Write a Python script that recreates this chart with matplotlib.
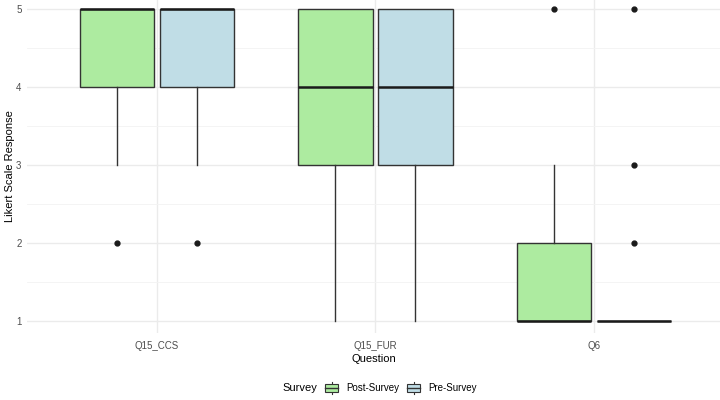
import matplotlib
matplotlib.use("Agg")

import matplotlib.pyplot as plt
from matplotlib.legend_handler import HandlerBase
from matplotlib.patches import Rectangle
from matplotlib.lines import Line2D


# Box statistics
QUESTIONS = ["Q15_CCS", "Q15_FUR", "Q6"]
SURVEYS = ["Post-Survey", "Pre-Survey"]

POST_Q1 = [4, 3, 1]
POST_MED = [5, 4, 1]
POST_Q3 = [5, 5, 2]
POST_LO = [3, 1, 1]
POST_HI = [5, 5, 3]
POST_FLIERS = [[2], [], [5]]

PRE_Q1 = [4, 3, 1]
PRE_MED = [5, 4, 1]
PRE_Q3 = [5, 5, 1]
PRE_LO = [3, 1, 1]
PRE_HI = [5, 5, 1]
PRE_FLIERS = [[2], [], [2, 3, 5]]

COLORS = {"Post-Survey": "#ADEBA0", "Pre-Survey": "#C0DDE6"}

plt.rcParams["font.family"] = ["Liberation Sans", "DejaVu Sans"]


def make_stats(q1, med, q3, lo, hi, fliers):
    return [
        {"q1": a, "med": m, "q3": b, "whislo": l, "whishi": h, "fliers": f}
        for a, m, b, l, h, f in zip(q1, med, q3, lo, hi, fliers)
    ]


class BoxHandler(HandlerBase):
    """Small boxplot glyph for the legend keys."""

    def create_artists(self, legend, orig_handle, xdescent, ydescent,
                       width, height, fontsize, trans):
        cx = width / 2 - xdescent
        line = Line2D([cx, cx], [-ydescent - height * 0.2, -ydescent + height * 1.2],
                      color="#333333", linewidth=0.8, transform=trans)
        rect = Rectangle((cx - width * 0.48, -ydescent + height * 0.05),
                         width * 0.96, height * 0.9,
                         facecolor=orig_handle.get_facecolor(),
                         edgecolor="#333333", linewidth=0.8, transform=trans)
        mid = Line2D([cx - width * 0.48, cx + width * 0.48],
                     [-ydescent + height / 2, -ydescent + height / 2],
                     color="#333333", linewidth=1.0, transform=trans)
        return [line, rect, mid]


def main():
    fig = plt.figure(figsize=(7.2, 4.0), dpi=100)
    ax = fig.add_axes([0.0375, 0.1675, 0.9625, 0.8325])

    offsets = {"Post-Survey": -0.183, "Pre-Survey": 0.183}
    stats = {
        "Post-Survey": make_stats(POST_Q1, POST_MED, POST_Q3, POST_LO, POST_HI, POST_FLIERS),
        "Pre-Survey": make_stats(PRE_Q1, PRE_MED, PRE_Q3, PRE_LO, PRE_HI, PRE_FLIERS),
    }

    base = list(range(1, len(QUESTIONS) + 1))
    for survey in SURVEYS:
        positions = [b + offsets[survey] for b in base]
        ax.bxp(
            stats[survey],
            positions=positions,
            widths=0.34,
            patch_artist=True,
            showcaps=False,
            boxprops=dict(facecolor=COLORS[survey], edgecolor="#333333", linewidth=1.0),
            whiskerprops=dict(color="#333333", linewidth=1.0),
            medianprops=dict(color="#1a1a1a", linewidth=1.8),
            flierprops=dict(marker="o", markerfacecolor="#1a1a1a",
                            markeredgecolor="#1a1a1a", markersize=3.5),
            manage_ticks=False,
            zorder=3,
        )

    ax.set_xlim(0.405, 3.577)
    ax.set_ylim(0.846, 5.115)
    ax.set_xticks(base)
    ax.set_xticklabels(QUESTIONS)
    ax.set_yticks([1, 2, 3, 4, 5])
    ax.set_yticks([1.5, 2.5, 3.5, 4.5], minor=True)

    ax.grid(True, which="major", color="#EBEBEB", linewidth=1.0, zorder=0)
    ax.grid(True, which="minor", axis="y", color="#F3F3F3", linewidth=0.6, zorder=0)
    ax.set_axisbelow(True)
    for spine in ax.spines.values():
        spine.set_visible(False)
    ax.tick_params(axis="both", which="both", length=0, labelsize=7, labelcolor="#4D4D4D")
    ax.tick_params(axis="x", pad=6)
    ax.tick_params(axis="y", pad=4)

    ax.set_xlabel("Question", fontsize=8, labelpad=2)
    ax.set_ylabel("Likert Scale Response", fontsize=8, va="center")
    ax.yaxis.set_label_coords(-0.0245, 0.5)

    handles = [Rectangle((0, 0), 1, 1, facecolor=COLORS[s]) for s in SURVEYS]
    fig.text(0.393, 0.03, "Survey", fontsize=8, ha="left", va="center")
    fig.legend(
        handles, SURVEYS,
        handler_map={Rectangle: BoxHandler()},
        loc="center left", bbox_to_anchor=(0.451, 0.03),
        ncol=2, frameon=False, fontsize=7,
        handlelength=1.4, handleheight=1.0, handletextpad=0.8,
        columnspacing=0.8, borderpad=0, borderaxespad=0,
    )

    fig.savefig("out.png", dpi=100)
    plt.close(fig)


if __name__ == "__main__":
    main()
